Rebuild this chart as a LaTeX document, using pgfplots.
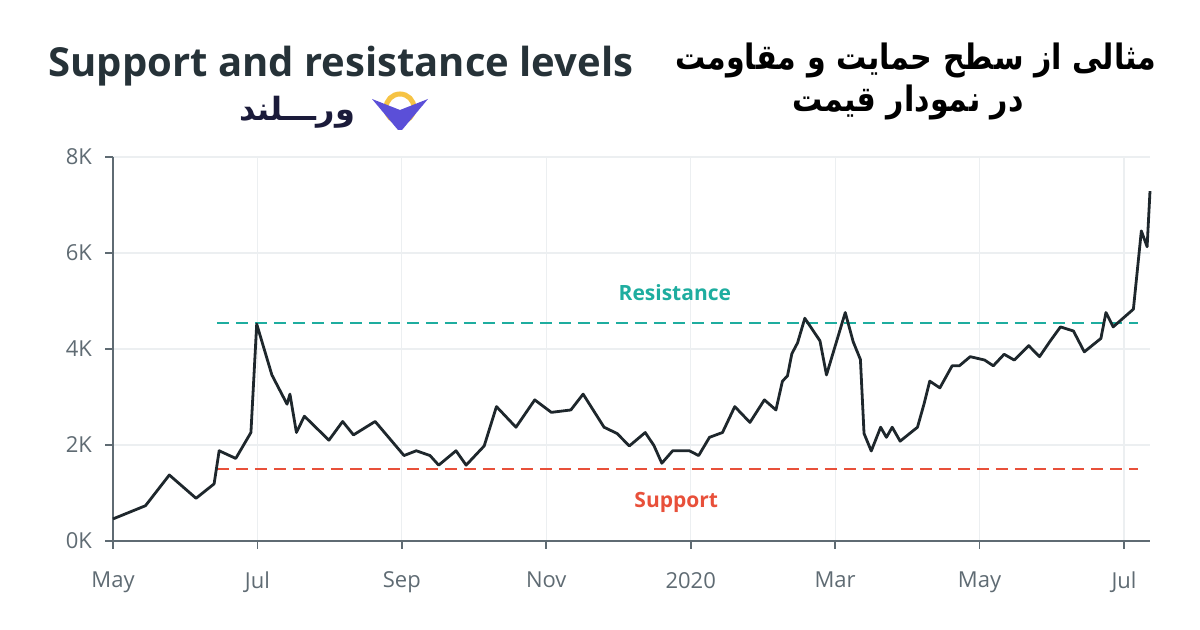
\documentclass[border=0pt]{standalone}
\usepackage{fontspec}
\setmainfont{Open Sans}
\newfontfamily\arabicfont[Script=Arabic]{DejaVu Sans}
\newfontfamily\arabicfontb[Script=Arabic]{DejaVu Sans Bold}
\TeXXeTstate=1
\usepackage{pgfplots}
\pgfplotsset{compat=1.18}
\definecolor{titlec}{HTML}{263238}
\definecolor{tickc}{HTML}{5F6B73}
\definecolor{gridc}{HTML}{ECEFF1}
\definecolor{linec}{HTML}{1E272C}
\definecolor{resc}{HTML}{1EAD9F}
\definecolor{supc}{HTML}{E8503A}
\definecolor{logop}{HTML}{5B4FD8}
\definecolor{logoy}{HTML}{F6C344}
\definecolor{logot}{HTML}{1B1B3A}
\begin{document}
\begin{tikzpicture}
\path[use as bounding box] (0,0) rectangle (600pt,315pt);
\begin{axis}[
  at={(56.5pt,44.5pt)}, anchor=south west,
  scale only axis, width=518.5pt, height=192pt,
  xmin=0, xmax=14.36, ymin=0, ymax=8,
  axis lines=left, axis line style={tickc, line width=0.8pt, -},
  xtick={0,2,4,6,8,10,12,14},
  xticklabels={May,Jul,Sep,Nov,2020,Mar,May,Jul},
  ytick={0,2,4,6,8},
  yticklabels={0K,2K,4K,6K,8K},
  tick align=outside, major tick length=4pt,
  tick style={tickc, line width=0.8pt},
  grid=major, major grid style={gridc, line width=0.6pt},
  ticklabel style={font=\fontsize{11}{13}\selectfont, text=tickc},
  xticklabel style={yshift=-8pt},
  yticklabel style={xshift=-3pt},
  clip=false,
]
\addplot[resc, line width=1.3pt, dash pattern=on 6pt off 3.5pt] coordinates {(1.44,4.54) (14.20,4.54)};
\addplot[supc, line width=1.3pt, dash pattern=on 6pt off 3.5pt] coordinates {(1.44,1.5) (14.20,1.5)};
\addplot[linec, line width=1.4pt, line join=round] coordinates {
(0.00,0.46) (0.45,0.735) (0.78,1.375) (1.15,0.89) (1.40,1.19) (1.47,1.88)
(1.70,1.72) (1.91,2.26) (1.99,4.52) (2.20,3.46) (2.41,2.85) (2.45,3.06)
(2.54,2.26) (2.65,2.60) (2.99,2.10) (3.18,2.49) (3.33,2.21) (3.63,2.49)
(4.03,1.78) (4.20,1.88) (4.39,1.78) (4.51,1.58) (4.75,1.88) (4.89,1.58)
(5.14,1.98) (5.31,2.80) (5.58,2.37) (5.84,2.94) (6.07,2.68) (6.34,2.73)
(6.51,3.06) (6.80,2.37) (6.98,2.24) (7.15,1.98) (7.37,2.26) (7.49,1.99)
(7.60,1.62) (7.75,1.88) (7.98,1.88) (8.11,1.78) (8.26,2.16) (8.44,2.26)
(8.61,2.80) (8.82,2.47) (9.02,2.94) (9.18,2.73) (9.27,3.33) (9.34,3.44)
(9.40,3.90) (9.48,4.13) (9.58,4.64) (9.79,4.17) (9.88,3.46) (10.14,4.76)
(10.25,4.15) (10.35,3.78) (10.40,2.24) (10.50,1.875) (10.63,2.37) (10.71,2.16)
(10.79,2.37) (10.90,2.08) (11.14,2.37) (11.23,2.85) (11.31,3.33) (11.45,3.19)
(11.62,3.65) (11.72,3.65) (11.87,3.84) (12.07,3.77) (12.19,3.65) (12.34,3.89)
(12.48,3.77) (12.68,4.07) (12.83,3.84) (12.98,4.17) (13.12,4.46) (13.30,4.375)
(13.45,3.94) (13.68,4.22) (13.75,4.76) (13.85,4.46) (14.13,4.83) (14.24,6.46)
(14.32,6.13) (14.36,7.29)
};
\node[text=resc, font=\bfseries\fontsize{10.5}{12}\selectfont] at (axis cs:7.78,5.17) {Resistance};
\node[text=supc, font=\bfseries\fontsize{10.5}{12}\selectfont] at (axis cs:7.80,0.81) {Support};
\end{axis}
\node[text=titlec, font=\bfseries\fontsize{20}{24}\selectfont] at (170.5pt,282pt) {Support and resistance levels};
\node[font=\arabicfontb\fontsize{17.5}{20}\selectfont, text=black] at (458pt,285pt) {\scalebox{0.86}[1]{\beginR مثالی از سطح حمایت و مقاومت\endR}};
\node[font=\arabicfontb\fontsize{17.5}{20}\selectfont, text=black] at (454pt,264pt) {\scalebox{0.86}[1]{\beginR در نمودار قیمت\endR}};
\node[font=\arabicfontb\fontsize{16}{18}\selectfont, text=logot] at (148.5pt,259pt) {\beginR ورـــلند\endR};
\draw[logoy, line width=2.5pt] (200pt,261pt) circle (7pt);
\fill[logop] (186pt,265.5pt) -- (200pt,260pt) -- (214pt,265.5pt) -- (201pt,250pt) -- (199pt,250pt) -- cycle;
\end{tikzpicture}
\end{document}
